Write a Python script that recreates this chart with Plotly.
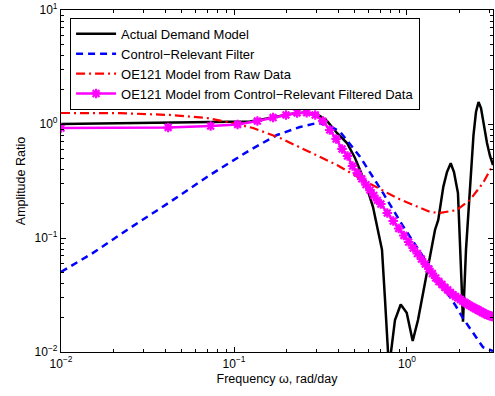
import numpy as np
import plotly.graph_objects as go

# ---------------- data ----------------
omega_actual = [0.01, 0.0327, 0.0636, 0.1237, 0.1615, 0.2108, 0.2573, 0.3019, 0.3448,
                0.3938, 0.4499, 0.5005, 0.5349, 0.5872, 0.6362, 0.6800, 0.7171, 0.7463,
                0.7768, 0.7924, 0.8083, 0.8523, 0.9197, 0.9961, 1.0788, 1.1576, 1.3053,
                1.4515, 1.516, 1.6216, 1.703, 1.7888, 1.869, 1.9707, 2.071, 2.1071, 2.193,
                2.267, 2.344, 2.423, 2.505, 2.5903, 2.6777, 2.7869, 2.9004, 3.0186, 3.1416]
amp_actual = [1.0, 1.02, 1.027, 1.05, 1.129, 1.224, 1.262, 1.224, 1.062,
              0.834, 0.681, 0.503, 0.395, 0.275, 0.187, 0.1176, 0.0787, 0.0288,
              0.01, 0.002, 0.01, 0.0191, 0.0261, 0.0221, 0.0125, 0.0191, 0.0494,
              0.1176, 0.144, 0.281, 0.379, 0.452, 0.379, 0.248, 0.0374, 0.0184, 0.0786,
              0.159, 0.395, 0.801, 1.274, 1.56, 1.38, 0.96, 0.681, 0.524, 0.437]

omega_filter = [0.01, 0.01531, 0.02408, 0.04266, 0.07264, 0.1237, 0.1773, 0.2407, 0.3019,
                0.3448, 0.4101, 0.5349, 0.7295, 0.9520, 1.1886, 1.4515, 1.6586, 1.8946,
                2.1071, 2.4076, 2.7499, 3.1416]
amp_filter = [0.0503, 0.0740, 0.1176, 0.207, 0.357, 0.591, 0.801, 0.941, 1.02,
              0.99, 0.856, 0.517, 0.246, 0.126, 0.0755, 0.0483, 0.0350, 0.0260,
              0.0198, 0.0147, 0.0110, 0.0102]

omega_raw = [0.01, 0.0219, 0.0427, 0.0698, 0.0911, 0.1288, 0.1845, 0.2750, 0.3938,
             0.5568, 0.8753, 1.3583, 1.56, 1.9453, 2.3133, 2.750, 3.1416]
amp_raw = [1.249, 1.245, 1.2, 1.129, 1.041, 0.922, 0.754, 0.568, 0.437,
           0.323, 0.224, 0.169, 0.166, 0.176, 0.216, 0.304, 0.437]

omega_cr = [0.01, 0.04163, 0.07327, 0.1049, 0.1365, 0.1682, 0.1998, 0.2314, 0.2631,
            0.2947, 0.3263, 0.3580, 0.3896, 0.4212, 0.4529, 0.4845, 0.5161, 0.5478,
            0.5794, 0.6110, 0.6427, 0.6743,
            0.7060, 0.7692, 0.8325, 0.8958, 0.9590, 1.0223, 1.0856, 1.1488, 1.2121,
            1.2754, 1.3387, 1.4019, 1.4652, 1.5285, 1.5917, 1.6550, 1.7183, 1.7815,
            1.8448, 1.9081, 1.9714, 2.0346, 2.0979, 2.1612, 2.2244, 2.2877, 2.3510,
            2.4142, 2.4775, 2.5408, 2.6041, 2.6673, 2.7306, 2.7939, 2.8571, 2.9204,
            2.9837, 3.0469, 3.1102, 3.1416]
amp_cr = [0.922, 0.932, 0.960, 0.99, 1.062, 1.14, 1.20, 1.249, 1.256,
          1.20, 1.06, 0.886, 0.739, 0.604, 0.524, 0.428, 0.372, 0.330,
          0.294, 0.263, 0.236, 0.214,
          0.1987, 0.1657, 0.1409, 0.1212, 0.1052, 0.0922, 0.0817, 0.0731, 0.0654,
          0.0591, 0.0535, 0.0488, 0.0446, 0.0415, 0.0391, 0.0368, 0.0350, 0.0333,
          0.0319, 0.0307, 0.0298, 0.0289, 0.0280, 0.0272, 0.0264, 0.0258, 0.0251,
          0.0246, 0.0241, 0.0236, 0.0231, 0.0227, 0.0222, 0.0218, 0.0215, 0.0211,
          0.0209, 0.0207, 0.0205, 0.0205]

names = ["Actual Demand Model", "Control\u2212Relevant Filter",
         "OE121 Model from Raw Data",
         "OE121 Model from Control\u2212Relevant Filtered Data"]

x_tickvals = [0.01, 0.1, 1]
x_ticktext = ["10<sup>\u22122</sup>", "10<sup>\u22121</sup>", "10<sup>0</sup>"]
y_tickvals = [0.01, 0.1, 1, 10]
y_ticktext = ["10<sup>\u22122</sup>", "10<sup>\u22121</sup>", "10<sup>0</sup>", "10<sup>1</sup>"]
x_minor = [m * d for d in (0.01, 0.1, 1) for m in range(2, 10) if m * d < 3.15]
y_minor = [m * d for d in (0.01, 0.1, 1) for m in range(2, 10)]

FONT = "Liberation Sans, Arial, Helvetica, sans-serif"

fig = go.Figure()
fig.add_trace(go.Scatter(x=omega_actual, y=amp_actual, mode="lines", name=names[0],
                         line=dict(color="#000000", width=2.5)))
fig.add_trace(go.Scatter(x=omega_filter, y=amp_filter, mode="lines", name=names[1],
                         line=dict(color="#0000FF", width=2.5, dash="7px,5px")))
fig.add_trace(go.Scatter(x=omega_raw, y=amp_raw, mode="lines", name=names[2],
                         line=dict(color="#FF0000", width=2.2, dash="9px,4px,2px,4px")))
fig.add_trace(go.Scatter(x=omega_cr, y=amp_cr, mode="lines+markers", name=names[3],
                         line=dict(color="#FF00FF", width=2.5),
                         marker=dict(symbol="asterisk-open", size=8, color="#FF00FF",
                                     line=dict(color="#FF00FF", width=2.2))))

axis_common = dict(type="log", showline=True, linecolor="#000000", linewidth=1.2,
                   mirror="allticks", ticks="inside", ticklen=5, tickcolor="#000000",
                   showgrid=False, zeroline=False,
                   tickfont=dict(family=FONT, size=12, color="#000000"))

fig.update_xaxes(range=[-2, float(np.log10(np.pi))], tickmode="array",
                 tickvals=x_tickvals, ticktext=x_ticktext,
                 minor=dict(tickmode="array", tickvals=x_minor, ticks="inside",
                            ticklen=3, tickcolor="#000000", showgrid=False),
                 title=dict(text="Frequency \u03c9, rad/day",
                            font=dict(family=FONT, size=12.5, color="#000000"), standoff=4),
                 **axis_common)
fig.update_yaxes(range=[-2, 1], tickmode="array",
                 tickvals=y_tickvals, ticktext=y_ticktext,
                 minor=dict(tickmode="array", tickvals=y_minor, ticks="inside",
                            ticklen=3, tickcolor="#000000", showgrid=False),
                 title=dict(text="Amplitude Ratio",
                            font=dict(family=FONT, size=12.5, color="#000000"), standoff=6),
                 **axis_common)

fig.update_layout(
    width=495, height=396,
    margin=dict(l=61, r=2, t=10, b=44),
    plot_bgcolor="#FFFFFF", paper_bgcolor="#FFFFFF",
    font=dict(family=FONT, size=12, color="#000000"),
    legend=dict(x=0.021, y=0.977, xanchor="left", yanchor="top",
                bgcolor="#FFFFFF", bordercolor="#000000", borderwidth=1,
                font=dict(family=FONT, size=13, color="#000000"),
                tracegroupgap=0, itemwidth=40),
    showlegend=True,
)

fig.write_html("out.html")
